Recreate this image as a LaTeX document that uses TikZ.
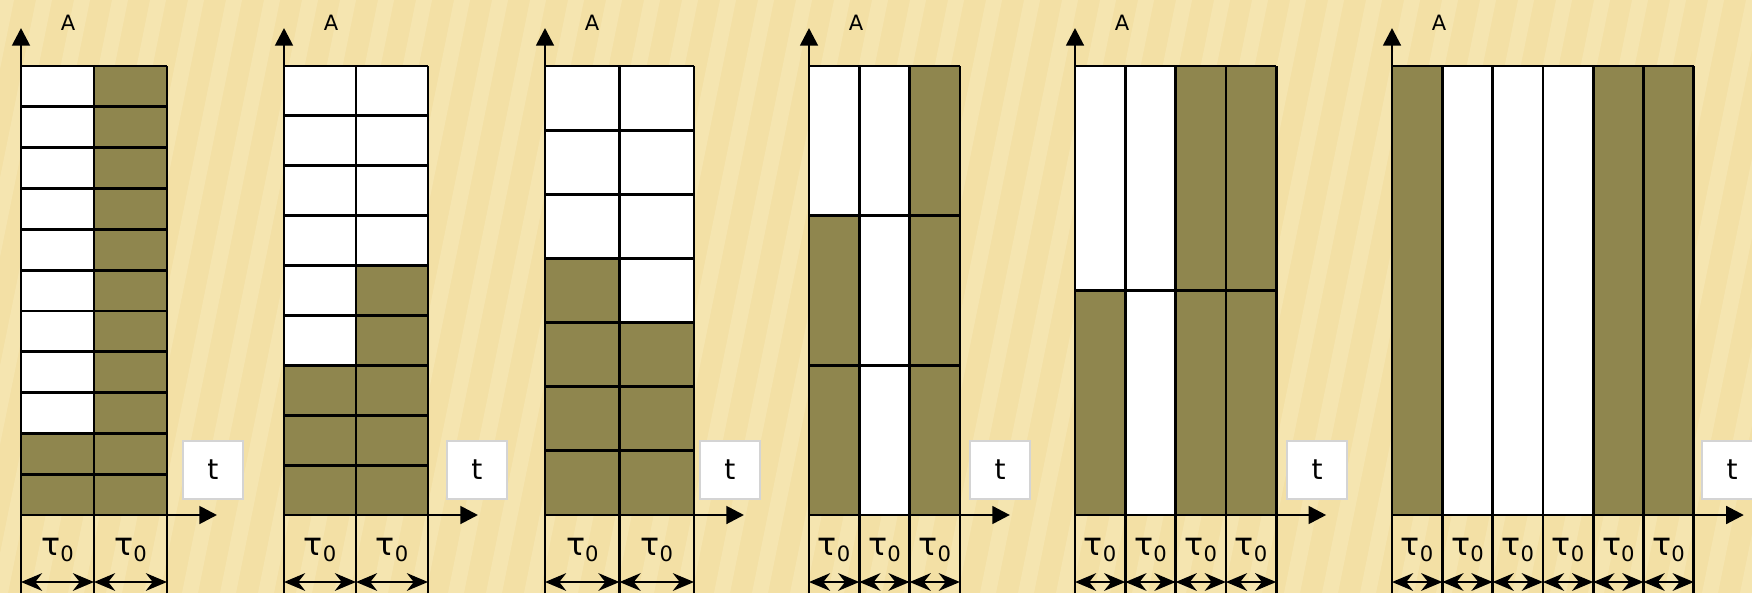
\documentclass[tikz,border=0pt]{standalone}
\usepackage{fontspec}
\setmainfont{DejaVu Sans}
\usetikzlibrary{arrows.meta}
\definecolor{sand}{HTML}{F3E0A5}
\definecolor{streak}{HTML}{FBEFC6}
\definecolor{olive}{HTML}{8F864E}
\definecolor{boxline}{HTML}{D4D4D4}
\tikzset{
  gridline/.style={
    draw=black,
    line width=0.8pt
  },
  axis/.style={
    draw=black,
    line width=0.8pt,
    -{Triangle[length=5pt,width=5pt]}
  },
  span/.style={
    draw=black,
    line width=0.8pt,
    {Stealth[length=6pt,width=5pt]}-{Stealth[length=6pt,width=5pt]}
  },
  tbox/.style={
    draw=boxline,
    line width=0.4pt,
    fill=white,
    minimum width=0.6cm,
    minimum height=0.58cm,
    font=\fontsize{8}{10}\selectfont
  },
  alabel/.style={
    inner sep=0pt,
    font=\fontsize{6}{7}\selectfont
  },
  taulabel/.style={
    inner sep=0pt,
    font=\fontsize{9}{10}\selectfont
  }
}
\newcommand{\tauo}{τ\raisebox{-0.35ex}{\fontsize{6}{7}\selectfont 0}}
% #1 name, #2 left, #3 column width, #4 rows, #5 dark cells per column,
% #6 columns, #7 x of the t box
\newcommand{\barpanel}[7]{
  \pgfmathsetmacro{\rowh}{449/#4}
  \pgfmathsetmacro{\wide}{#6*#3}
  \coordinate (#1-bot) at (#2,0);
  \coordinate (#1-top) at (#2,565);
  \coordinate (#1-o) at (#2,78);
  \coordinate (#1-end) at (#2+\wide+50,78);
  \foreach \n [count=\c from 0] in {#5} {
    \fill[white] (#2+\c*#3,78) rectangle ++(#3,449);
    \fill[olive] (#2+\c*#3,78) rectangle ++(#3,\n*\rowh);
  }
  \foreach \r in {0,...,#4}
    \draw[gridline] (#2,78+\r*\rowh) -- ++(\wide,0);
  \foreach \c in {1,...,#6} {
    \draw[gridline] (#2+\c*#3,0) -- (#2+\c*#3,527);
    \node[taulabel] (#1-tau\c) at (#2+\c*#3-#3/2,43) {\tauo};
    \draw[span] (#2+\c*#3-#3,11) -- (#2+\c*#3,11);
  }
  \draw[axis] (#1-bot) -- (#1-top);
  \draw[axis] (#1-o) -- (#1-end);
  \node[alabel] (#1-A) at (#2+47,570) {A};
  \node[tbox] (#1-t) at (#7,123) {t};
}

\begin{document}
\begin{tikzpicture}[x=0.01cm,y=0.01cm]
  \clip (0,0) rectangle (1752,593);
  \fill[sand] (0,0) rectangle (1752,593);
  \foreach \i in {0,...,52}
    \fill[streak, opacity=0.35] (\i*38-160,0) -- ++(16,0) -- ++(120,593) -- ++(-16,0) -- cycle;

  \barpanel{p1}{21}{73}{11}{2,11}{2}{213}
  \barpanel{p2}{284}{72}{9}{3,5}{2}{477}
  \barpanel{p3}{545}{74.5}{7}{4,3}{2}{730}
  \barpanel{p4}{809}{50.3}{3}{2,0,3}{3}{1000}
  \barpanel{p5}{1075}{50.3}{2}{1,0,2,2}{4}{1317}
  \barpanel{p6}{1392}{50.3}{1}{1,0,0,0,1,1}{6}{1732}
\end{tikzpicture}
\end{document}
